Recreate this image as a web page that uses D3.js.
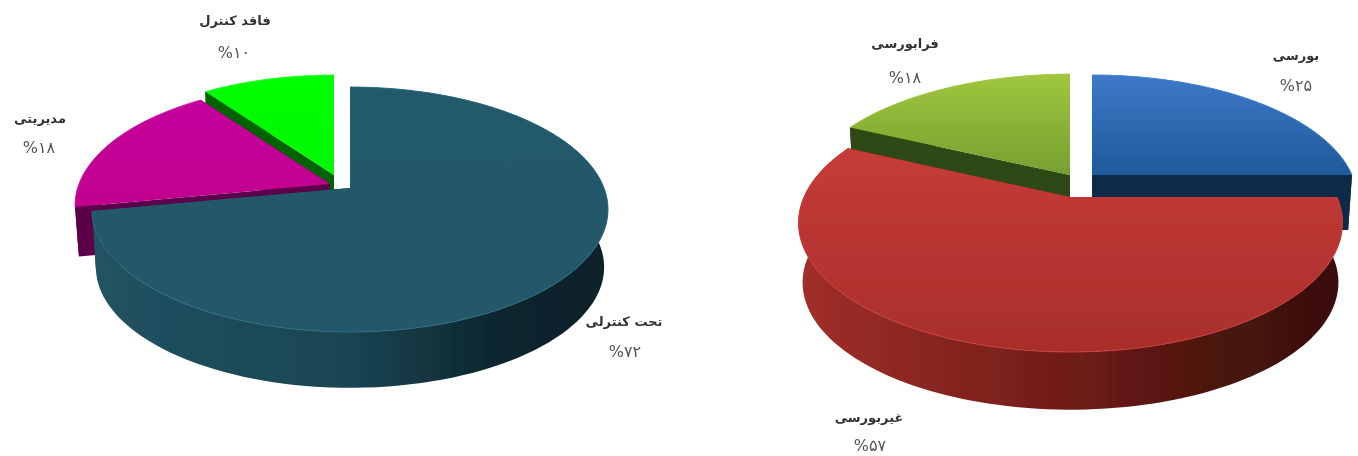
<!DOCTYPE html>
<html lang="fa">
<head>
<meta charset="utf-8">
<script src="https://cdn.jsdelivr.net/npm/d3@7/dist/d3.min.js"></script>
<style>
html,body{margin:0;padding:0;background:#fff}
svg{display:block}
text{font-family:"DejaVu Sans",sans-serif;text-anchor:middle}
</style>
</head>
<body>
<svg id="c" width="1358" height="456"></svg>
<script>
// ---- data
const controlCategories = ["تحت کنترلی", "مدیریتی", "فاقد کنترل"];
const controlValues = [72, 18, 10];
const marketCategories = ["بورسی", "غیربورسی", "فرابورسی"];
const marketValues = [25, 57, 18];
const persianDigits = "۰۱۲۳۴۵۶۷۸۹";

// ---- layout & style (kept apart from the data)
const controlStyle = [
  {ax:350, ay:188, rx:254, ry:118.7, p:.1755, depth:58, order:2, top:["#225a6a","#205869"], rim:"#2f6d7e",
   side:["#215262","#1a4453","#0d2730","#0a2029"], wall:"#143a47", label:[624,321], pct:[625,351]},
  {ax:330, ay:184, rx:251, ry:118.5, p:.1755, depth:50, order:1, top:["#c4009c","#c2008e"], rim:"#d028a8",
   side:["#5c004c","#5c004c","#5c004c","#5c004c"], wall:"#5c004c", label:[40,118], pct:[39,147]},
  {ax:334, ay:175, rx:250, ry:117.5, p:.1755, depth:54, order:0, top:["#00ff00","#00f800"], rim:"#30ff30",
   side:["#006400","#006400","#006400","#006400"], wall:"#006400", label:[235,20], pct:[234,52]}
];
const marketStyle = [
  {ax:1092, ay:175, rx:260, ry:120, p:.2, depth:55, order:0, top:["#3d78c8","#1f5a9a"], rim:"#4a86d4",
   side:["#0e2a47","#0e2a47","#0e2a47","#0e2a47"], wall:"#0e2a47", label:[1296,55], pct:[1296,85]},
  {ax:1070.5, ay:197, rx:266.5, ry:124, p:.2, depth:60, order:2, top:["#c63c38","#a82e2b"], rim:"#c8403a",
   side:["#a02e29","#701c17","#4a130e","#3a100b"], wall:"#5c1712", label:[869,417], pct:[870,445]},
  {ax:1070, ay:175, rx:264, ry:121, p:.2, depth:53, order:1, top:["#9fc63e","#76a02f"], rim:"#a8cf48",
   side:["#2e4a12","#2e4a12","#2e4a12","#2e4a12"], wall:"#2e4a12", label:[905,43], pct:[905,77]}
];

const svg = d3.select("#c");
const defs = svg.append("defs");
defs.append("filter").attr("id","soft").attr("x","-5%").attr("y","-5%").attr("width","110%").attr("height","110%")
  .append("feGaussianBlur").attr("stdDeviation",0.7);
defs.append("filter").attr("id","softText").attr("x","-10%").attr("y","-30%").attr("width","120%").attr("height","160%")
  .append("feGaussianBlur").attr("stdDeviation",0.5);

const pie = d3.pie().sort(null).startAngle(0).endAngle(2*Math.PI);
const line = d3.line().x(d=>d[0]).y(d=>d[1]);
const SHRINK = 0.985;

// perspective projection of a point on the unit pie rim
function project(s, angle, depth, k){
  const u = Math.sin(angle), v = -Math.cos(angle), w = 1/(1 - s.p*v);
  return [s.ax + s.rx*u*w*k, s.ay + depth + s.ry*v*w*k];
}
const toPersian = n => String(n).replace(/\d/g, c => persianDigits[+c]);

function drawPie(id, categories, values, styles){
  const arcs = pie(values).map((a,i)=>({...a, name:categories[i], s:styles[i], i}));
  const g = svg.append("g").attr("filter","url(#soft)");
  arcs.slice().sort((a,b)=>a.s.order-b.s.order).forEach(a=>{
    const s = a.s;
    const angles = d3.range(0,121).map(t=>a.startAngle+(a.endAngle-a.startAngle)*t/120);
    const topRim = angles.map(t=>project(s,t,0,1));
    const botRim = angles.map(t=>project(s,t,s.depth,SHRINK));
    const apex = [s.ax,s.ay], apexB = [s.ax,s.ay+s.depth];

    const sideId = `${id}-side-${a.i}`, topId = `${id}-top-${a.i}`;
    const sg = defs.append("linearGradient").attr("id",sideId).attr("gradientUnits","userSpaceOnUse")
      .attr("x1",s.ax-s.rx).attr("x2",s.ax+s.rx).attr("y1",0).attr("y2",0);
    [0,.5,.78,1].forEach((o,j)=>sg.append("stop").attr("offset",o).attr("stop-color",s.side[j]));
    const tg = defs.append("linearGradient").attr("id",topId).attr("gradientUnits","userSpaceOnUse")
      .attr("x1",0).attr("x2",0).attr("y1",d3.min(topRim,d=>d[1])).attr("y2",Math.max(s.ay,d3.max(topRim,d=>d[1])));
    tg.append("stop").attr("offset",0).attr("stop-color",s.top[0]);
    tg.append("stop").attr("offset",1).attr("stop-color",s.top[1]);

    // radial cut faces
    [[apex,topRim[0],botRim[0],apexB],[apex,topRim[120],botRim[120],apexB]].forEach(q=>{
      g.append("path").attr("d",line(q)+"Z").attr("fill",s.wall);
    });
    // outer curved wall
    g.append("path").attr("d",line(topRim.concat(botRim.slice().reverse()))+"Z").attr("fill",`url(#${sideId})`);
    // top face
    g.append("path").attr("d",line([apex,...topRim])+"Z").attr("fill",`url(#${topId})`);
    g.append("path").attr("d",line(topRim)).attr("fill","none").attr("stroke",s.rim).attr("stroke-width",1);

    // labels
    svg.append("text").attr("x",s.label[0]).attr("y",s.label[1]).attr("dy","0.35em")
      .attr("direction","rtl").attr("font-size",13).attr("font-weight",700).attr("fill","#333")
      .attr("filter","url(#softText)").text(a.name);
    svg.append("text").attr("x",s.pct[0]).attr("y",s.pct[1]).attr("dy","0.35em")
      .attr("direction","ltr").attr("font-size",16).attr("fill","#555")
      .attr("filter","url(#softText)").text("%"+toPersian(a.value));
  });
}
drawPie("control", controlCategories, controlValues, controlStyle);
drawPie("market", marketCategories, marketValues, marketStyle);
</script>
</body>
</html>
